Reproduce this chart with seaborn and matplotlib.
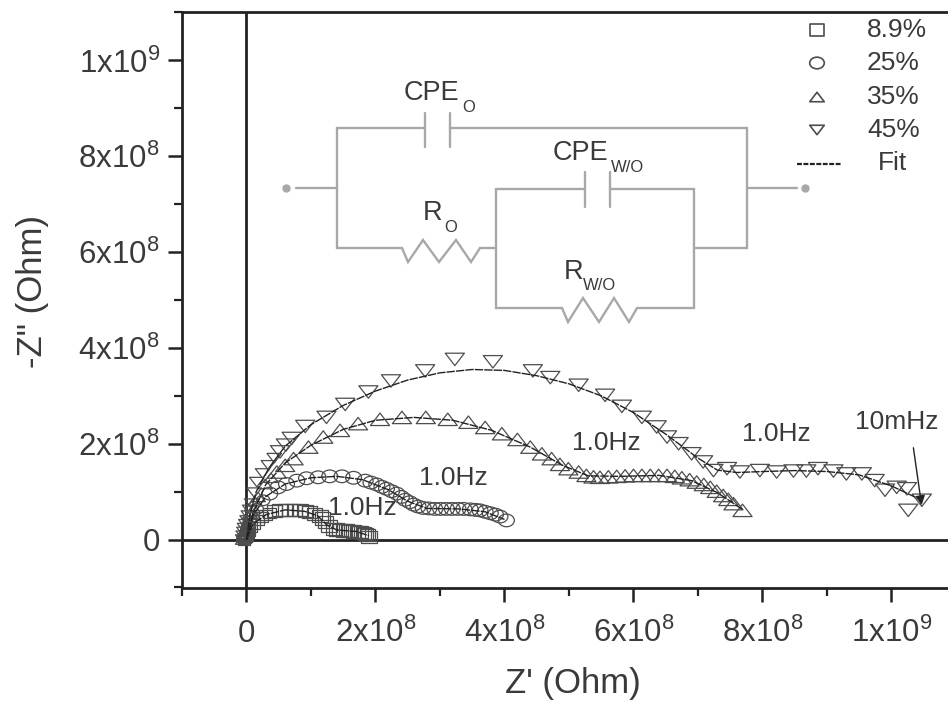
import numpy as np
import pandas as pd
import seaborn as sns
import matplotlib.pyplot as plt
from matplotlib.markers import MarkerStyle
from matplotlib.transforms import Affine2D

# values in units of 1e8 Ohm
x_89 = [-0.04, -0.03, -0.02, 0.0, 0.01, 0.03, 0.06, 0.11, 0.17, 0.24, 0.30, 0.36, 0.44, 0.52, 0.60, 0.67, 0.75, 0.83, 0.91, 0.98, 1.06, 1.14, 1.18, 1.22, 1.28,
        1.35, 1.40, 1.45, 1.50, 1.55, 1.60, 1.66, 1.72, 1.76, 1.81, 1.85, 1.88, 1.90]
y_89 = [0.0, 0.03, 0.05, 0.08, 0.14, 0.19, 0.26, 0.33, 0.41, 0.47, 0.52, 0.56, 0.59, 0.62, 0.62, 0.62, 0.62, 0.61, 0.59, 0.57, 0.54, 0.50, 0.44, 0.36, 0.28,
        0.22, 0.21, 0.20, 0.19, 0.19, 0.18, 0.17, 0.16, 0.15, 0.13, 0.12, 0.10, 0.06]
x_25 = [-0.05, -0.04, -0.02, 0.0, 0.01, 0.03, 0.05, 0.08, 0.16, 0.26, 0.36, 0.49, 0.62, 0.78, 0.93, 1.11, 1.29, 1.48, 1.66, 1.84, 1.93, 2.02, 2.10, 2.17, 2.25, 2.33,
        2.40, 2.46, 2.53, 2.59, 2.66, 2.74, 2.83, 2.92, 3.01, 3.10, 3.19, 3.28, 3.37, 3.47, 3.55, 3.62, 3.70, 3.78, 3.86, 3.93, 4.03]
y_25 = [0.0, 0.04, 0.08, 0.15, 0.22, 0.29, 0.38, 0.47, 0.64, 0.82, 0.96, 1.09, 1.16, 1.23, 1.28, 1.30, 1.32, 1.32, 1.29, 1.23, 1.19, 1.15, 1.10, 1.06, 1.01, 0.96,
        0.89, 0.83, 0.78, 0.73, 0.69, 0.66, 0.65, 0.64, 0.64, 0.64, 0.64, 0.64, 0.64, 0.63, 0.62, 0.61, 0.58, 0.55, 0.52, 0.48, 0.40]
x_35 = [-0.06, -0.05, -0.03, -0.02, 0.0, 0.03, 0.05, 0.08, 0.13, 0.18, 0.29, 0.38, 0.47, 0.60, 0.73, 0.96, 1.19, 1.45, 1.73, 2.07, 2.41, 2.78, 3.12, 3.44, 3.70, 3.96, 4.20, 4.40, 4.58, 4.73,
        4.86, 4.99, 5.15, 5.27, 5.38, 5.48, 5.61, 5.74, 5.87, 6.00, 6.13, 6.26, 6.39, 6.52, 6.64, 6.75, 6.87, 6.98, 7.09, 7.19, 7.29, 7.39,
        7.47, 7.55, 7.69]
y_35 = [0.0, 0.06, 0.12, 0.18, 0.26, 0.40, 0.54, 0.70, 0.80, 0.89, 1.16, 1.29, 1.41, 1.55, 1.69, 1.93, 2.14, 2.28, 2.42, 2.51, 2.55, 2.55, 2.51, 2.45, 2.34, 2.21, 2.09, 1.93, 1.79, 1.69,
        1.57, 1.48, 1.41, 1.34, 1.31, 1.30, 1.31, 1.32, 1.33, 1.34, 1.34, 1.34, 1.34, 1.34, 1.32, 1.29, 1.25, 1.20, 1.15, 1.09, 1.01, 0.92,
        0.84, 0.75, 0.61]
x_45 = [-0.06, -0.05, -0.04, -0.03, -0.01, 0.01, 0.03, 0.05, 0.08, 0.12, 0.16, 0.25, 0.34, 0.43, 0.52, 0.61, 0.70, 0.91, 1.24, 1.53, 1.89, 2.24, 2.77, 3.23, 3.82, 4.44, 4.71, 5.15, 5.56, 5.82, 6.13, 6.36,
        6.52, 6.70, 6.90, 7.08, 7.24, 7.45, 7.65, 7.96, 8.22, 8.48, 8.68, 8.86, 9.10, 9.30, 9.54, 9.74, 9.90, 10.08, 10.24, 10.26, 10.47]
y_45 = [0.0, 0.08, 0.16, 0.24, 0.32, 0.40, 0.50, 0.62, 0.75, 0.98, 1.20, 1.38, 1.55, 1.70, 1.83, 1.97, 2.11, 2.36, 2.55, 2.82, 3.08, 3.31, 3.52, 3.76, 3.71, 3.52, 3.38, 3.22, 3.01, 2.78, 2.55, 2.35,
        2.14, 2.00, 1.79, 1.62, 1.44, 1.48, 1.41, 1.44, 1.41, 1.43, 1.43, 1.48, 1.43, 1.37, 1.37, 1.23, 1.03, 1.09, 1.06, 0.61, 0.82]

fit_x_89 = [0.0, 0.1, 0.3, 0.6, 0.9, 1.1, 1.25, 1.4, 1.7, 1.9]
fit_y_89 = [0.0, 0.32, 0.52, 0.62, 0.59, 0.5, 0.3, 0.2, 0.17, 0.08]
fit_x_25 = [0.0, 0.1, 0.3, 0.6, 1.0, 1.4, 1.8, 2.2, 2.5, 2.8, 3.3, 3.7, 4.0]
fit_y_25 = [0.0, 0.5, 0.9, 1.16, 1.29, 1.32, 1.25, 1.04, 0.8, 0.65, 0.64, 0.58, 0.42]
fit_x_35 = [0.0, 0.1, 0.3, 0.6, 1.0, 1.5, 2.0, 2.6, 3.2, 3.8, 4.4, 4.9, 5.3, 5.8, 6.4, 6.9, 7.3, 7.7]
fit_y_35 = [0.0, 0.55, 1.15, 1.6, 1.97, 2.3, 2.49, 2.55, 2.49, 2.28, 1.93, 1.55, 1.33, 1.32, 1.34, 1.23, 0.98, 0.62]
fit_x_45 = [0.0, 0.05, 0.15, 0.35, 0.6, 1.0, 1.5, 2.0, 2.5, 3.0, 3.5, 4.0, 4.5, 5.0, 5.5, 6.0, 6.5, 7.0, 7.3, 7.6, 8.0, 8.5, 9.0, 9.5, 10.0, 10.47]
fit_y_45 = [0.0, 0.5, 1.0, 1.5, 1.95, 2.4, 2.8, 3.1, 3.33, 3.48, 3.55, 3.53, 3.42, 3.25, 3.0, 2.65, 2.2, 1.7, 1.45, 1.4, 1.42, 1.44, 1.42, 1.35, 1.12, 0.82]

series_labels = ['8.9%', '25%', '35%', '45%']
x_ticks = [0, 2e8, 4e8, 6e8, 8e8, 1e9]
x_minor = [-1e8, 1e8, 3e8, 5e8, 7e8, 9e8]
y_ticks = [0, 2e8, 4e8, 6e8, 8e8, 1e9]
y_minor = [-1e8, 1e8, 3e8, 5e8, 7e8, 9e8, 1.1e9]
tick_labels = ['0', '2x10$^{8}$', '4x10$^{8}$', '6x10$^{8}$', '8x10$^{8}$', '1x10$^{9}$']

sns.set_theme(style='ticks')
plt.rcParams['font.family'] = ['Liberation Sans', 'DejaVu Sans']
plt.rcParams['mathtext.fontset'] = 'custom'
plt.rcParams['mathtext.rm'] = 'Liberation Sans'
plt.rcParams['mathtext.default'] = 'rm'

ink = '#3a3a3a'
grey = '#a8a8a8'
edge = '#4d4d4d'

# the markers are squashed in the source picture
squash = Affine2D().scale(1, 0.65)
squash_soft = Affine2D().scale(1, 0.8)
markers = [MarkerStyle('s', transform=squash_soft), MarkerStyle('o', transform=squash_soft),
           MarkerStyle('^', transform=squash), MarkerStyle('v', transform=squash)]
sizes = [120, 130, 190, 190]
small_sizes = [85, 90, 110, 110]
n_small = [12, 10, 12, 14]  # the first points sit in the blob near the origin

fig = plt.figure(figsize=(9.48, 7.02), dpi=100)
ax = fig.add_axes([182 / 948, 1 - 587.5 / 702, (948 - 182) / 948, (587.5 - 12.5) / 702])

data = [(x_89, y_89), (x_25, y_25), (x_35, y_35), (x_45, y_45)]
fits = [(fit_x_89, fit_y_89), (fit_x_25, fit_y_25), (fit_x_35, fit_y_35), (fit_x_45, fit_y_45)]

for (xs, ys), (fx, fy), m, s, s2, n in zip(data, fits, markers, sizes, small_sizes, n_small):
    df = pd.DataFrame({'x': np.array(xs) * 1e8, 'y': np.array(ys) * 1e8})
    sns.scatterplot(data=df.iloc[:n], x='x', y='y', marker=m, s=s2, facecolor='none', edgecolor=edge, linewidth=0.9, ax=ax, zorder=3)
    sns.scatterplot(data=df.iloc[n:], x='x', y='y', marker=m, s=s, facecolor='none', edgecolor=edge, linewidth=0.9, ax=ax, zorder=3)
    fit_df = pd.DataFrame({'x': np.array(fx) * 1e8, 'y': np.array(fy) * 1e8})
    sns.lineplot(data=fit_df, x='x', y='y', sort=False, estimator=None, color='#222222', lw=1.0, ls=(0, (6, 0.8)), ax=ax, zorder=4)

ax.axvline(0, color='#222222', lw=2, zorder=2)
ax.axhline(0, color='#222222', lw=2, zorder=2)

ax.set_xlim(-1e8, 1.0876e9)
ax.set_ylim(-1e8, 1.1e9)
ax.set_xticks(x_ticks, tick_labels)
ax.set_yticks(y_ticks, tick_labels)
ax.set_xticks(x_minor, minor=True)
ax.set_yticks(y_minor, minor=True)
ax.tick_params(which='major', length=10, width=1.8, color='#222222', labelsize=22.5, labelcolor=ink)
ax.tick_params(which='minor', length=6, width=1.6, color='#222222')
ax.tick_params(axis='y', which='major', pad=6)
ax.tick_params(axis='x', which='major', pad=29)
for lab in ax.get_xticklabels():
    lab.set_verticalalignment('baseline')
ax.set_xlabel("Z' (Ohm)", fontsize=25, color=ink, va='baseline')
ax.set_ylabel('-Z" (Ohm)', fontsize=25, color=ink, va='baseline')
ax.xaxis.set_label_coords((572.5 - 182) / 766, -(693 - 587.5) / 575)
ax.yaxis.set_label_coords((42 - 182) / 766, (587.5 - 292) / 575)
ax.spines['right'].set_visible(False)
for side in ['left', 'top', 'bottom']:
    ax.spines[side].set_linewidth(2)
    ax.spines[side].set_color('#222222')

# overlay in picture pixels for the circuit, legend and notes
over = fig.add_axes([0, 0, 1, 1], facecolor='none')
over.set_xlim(0, 948)
over.set_ylim(702, 0)
over.axis('off')

wires = [
    ([296, 337, 337, 425.5], [188, 188, 128, 128]),
    ([450.5, 747, 747, 694], [128, 128, 248, 248]),
    ([425.5, 425.5], [113, 147]),
    ([450.5, 450.5], [113, 147]),
    ([747, 797], [188, 188]),
    ([337, 337, 402, 408, 423, 439, 456, 471, 480, 496], [188, 248, 248, 262, 240, 262, 240, 262, 248, 248]),
    ([585, 496, 496, 562, 568, 583, 599, 614, 629, 637, 694, 694, 610], [189, 189, 308, 308, 322, 298, 322, 298, 322, 308, 308, 189, 189]),
    ([585, 585], [172, 207]),
    ([610, 610], [172, 207]),
]
for wx, wy in wires:
    over.plot(wx, wy, color=grey, lw=1.7, solid_joinstyle='miter')
over.plot([286, 805], [188, 188], ls='none', marker='o', ms=5, color=grey)

circuit_text = [(404, 93, 'CPE', 462, 107, 'O'), (553, 153, 'CPE', 611, 167, 'W/O'),
                (423, 213, 'R', 444, 227, 'O'), (564, 272, 'R', 583, 285, 'W/O')]
for tx, ty, t, sx, sy, sub in circuit_text:
    over.text(tx, ty, t, fontsize=19.5, color=ink, ha='left', va='center')
    over.text(sx, sy, sub, fontsize=12, color=ink, ha='left', va='center')

notes = [(362, 508, '1.0Hz'), (453, 478, '1.0Hz'), (606, 443, '1.0Hz'), (776, 434, '1.0Hz'), (897, 422, '10mHz')]
for tx, ty, t in notes:
    over.text(tx, ty, t, fontsize=19, color=ink, ha='center', va='center')
over.annotate('', xy=(922, 508), xytext=(913, 445),
              arrowprops=dict(arrowstyle='-|>', color='#222222', lw=1, mutation_scale=14))

# legend
legend_y = [30, 63, 97, 130]
for ly, m, lab in zip(legend_y, markers, series_labels):
    over.scatter([817], [ly], marker=m, s=110, facecolor='none', edgecolor=edge, linewidth=1.2)
    over.text(867, ly, lab, fontsize=19, color=ink, ha='left', va='center')
over.plot([797, 841], [164, 164], color='#222222', lw=1.6, ls=(0, (2.2, 0.7)))
over.text(893, 163, 'Fit', fontsize=19, color=ink, ha='center', va='center')

fig.savefig('out.png', dpi=100)
plt.close()
